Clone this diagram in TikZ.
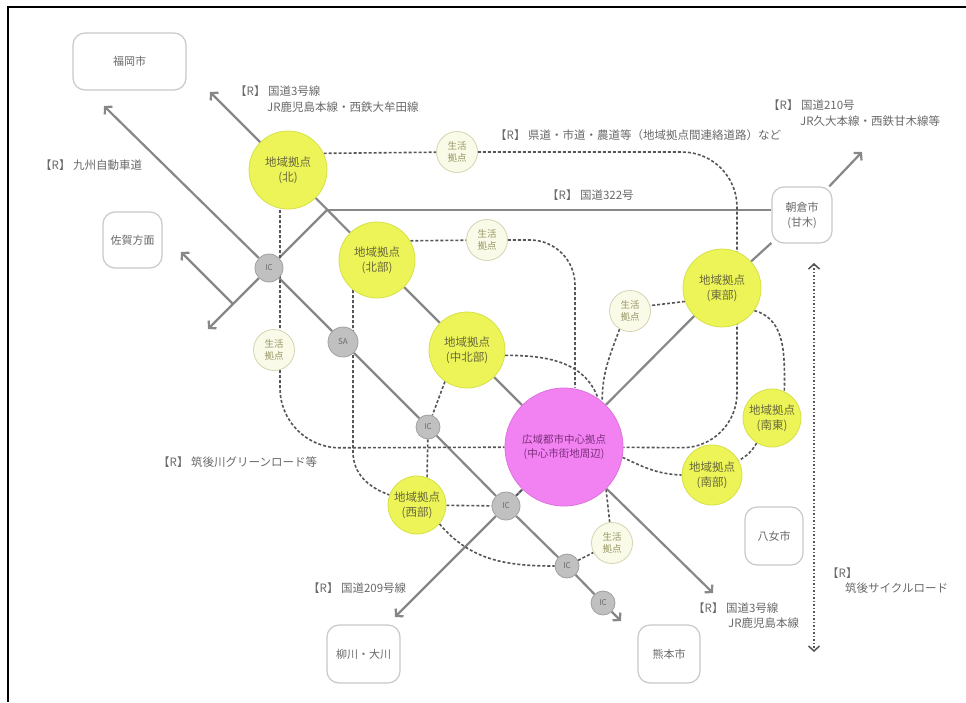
\documentclass[tikz,border=0pt]{standalone}
\usepackage{fontspec}
\setmainfont{Noto Sans CJK JP}
\usepackage{tikz}
\usetikzlibrary{arrows.meta,backgrounds}
\definecolor{hubfill}{RGB}{242,130,242}
\definecolor{hubline}{RGB}{222,112,222}
\definecolor{hubtext}{RGB}{125,45,125}
\definecolor{areafill}{RGB}{236,244,88}
\definecolor{arealine}{RGB}{214,224,72}
\definecolor{areatext}{RGB}{105,105,60}
\definecolor{lifefill}{RGB}{250,250,232}
\definecolor{lifeline}{RGB}{212,212,178}
\definecolor{lifetext}{RGB}{150,150,100}
\definecolor{icfill}{RGB}{192,192,192}
\definecolor{icline}{RGB}{160,160,160}
\definecolor{boxline}{RGB}{200,200,200}
\definecolor{roadgray}{RGB}{135,135,135}
\definecolor{routegray}{RGB}{85,85,85}
\definecolor{textgray}{RGB}{105,105,105}

\begin{document}
\begin{tikzpicture}[x=1pt,y=-1pt,>={Straight Barb[length=5pt,width=11pt]},font=\fontsize{11.5}{14}\selectfont]
 \tikzstyle{hub}=[circle,fill=hubfill,draw=hubline,line width=0.8pt,inner sep=0pt,minimum size=118pt,align=center,text=hubtext,font=\fontsize{10.5}{14}\selectfont]
 \tikzstyle{area}=[circle,fill=areafill,draw=arealine,line width=0.8pt,inner sep=0pt,minimum size=76pt,align=center,text=areatext,font=\fontsize{11.5}{15}\selectfont]
 \tikzstyle{life}=[circle,fill=lifefill,draw=lifeline,line width=0.8pt,inner sep=0pt,minimum size=41pt,align=center,text=lifetext,font=\fontsize{9.5}{11.5}\selectfont]
 \tikzstyle{ic}=[circle,fill=icfill,draw=icline,line width=0.8pt,inner sep=0pt,minimum size=26pt,text=textgray,font=\fontsize{8}{9}\selectfont]
 \tikzstyle{city}=[rectangle,rounded corners=12pt,fill=white,draw=boxline,line width=1.2pt,align=center,text=textgray,font=\fontsize{11}{15}\selectfont]
 \tikzstyle{lbl}=[anchor=west,inner sep=0pt,text=textgray]
 \tikzstyle{road}=[draw=roadgray,line width=2.2pt]
 \tikzstyle{route}=[draw=routegray,line width=1.6pt,dash pattern=on 3pt off 2pt]

 \useasboundingbox (0,0) rectangle (966,702);
 \draw[line width=2.5pt] (966,7) -- (8,7) -- (8,702);

 % neighbouring cities
 \node[city,minimum width=113pt,minimum height=57pt] (fukuoka) at (129.5,61.5) {福岡市};
 \node[city,minimum width=59pt,minimum height=56pt] (saga) at (132.5,240) {佐賀方面};
 \node[city,minimum width=60pt,minimum height=56pt] (asakura) at (802,215) {朝倉市\\(甘木)};
 \node[city,minimum width=58pt,minimum height=58pt] (yame) at (774,536) {八女市};
 \node[city,minimum width=73pt,minimum height=58pt] (yanagawa) at (363.5,654) {柳川・大川};
 \node[city,minimum width=62pt,minimum height=58pt] (kumamoto) at (669,654) {熊本市};

 % centres
 \node[hub] (M) at (564,447) {広域都市中心拠点\\(中心市街地周辺)};
 \node[area,minimum size=78pt] (Y1) at (288,170) {地域拠点\\(北)};
 \node[area] (Y2) at (377,260) {地域拠点\\(北部)};
 \node[area] (Y3) at (467,350) {地域拠点\\(中北部)};
 \node[area,minimum size=78pt] (Y4) at (722,288) {地域拠点\\(東部)};
 \node[area,minimum size=58pt] (Y5) at (772,418) {地域拠点\\(南東)};
 \node[area,minimum size=60pt] (Y6) at (712,475) {地域拠点\\(南部)};
 \node[area,minimum size=58pt] (Y7) at (417,505) {地域拠点\\(西部)};
 \node[life] (S1) at (457,152) {生活\\拠点};
 \node[life] (S2) at (487,240) {生活\\拠点};
 \node[life] (S3) at (274,350) {生活\\拠点};
 \node[life] (S4) at (630,311) {生活\\拠点};
 \node[life] (S5) at (612,543) {生活\\拠点};
 \node[ic,minimum size=28pt] (G1) at (269,268) {IC};
 \node[ic,minimum size=30pt] (G2) at (343,342) {SA};
 \node[ic,minimum size=24pt] (G3) at (428,427) {IC};
 \node[ic,minimum size=28pt] (G4) at (506,506) {IC};
 \node[ic,minimum size=24pt] (G5) at (567,566) {IC};
 \node[ic,minimum size=24pt] (G6) at (603,603) {IC};

 % road names
 \node[lbl] (t1a) at (235,91) {【R】 国道3号線};
 \node[lbl] (t1b) at (267,107) {JR鹿児島本線・西鉄大牟田線};
 \node[lbl] (t2) at (40,165) {【R】 九州自動車道};
 \node[lbl] (t3) at (495,135) {【R】 県道・市道・農道等（地域拠点間連絡道路）など};
 \node[lbl] (t4a) at (768,105) {【R】 国道210号};
 \node[lbl] (t4b) at (800,121) {JR久大本線・西鉄甘木線等};
 \node[lbl] (t5) at (547,195) {【R】 国道322号};
 \node[lbl] (t6) at (158,462) {【R】 筑後川グリーンロード等};
 \node[lbl] (t7) at (308,588) {【R】 国道209号線};
 \node[lbl] (t8a) at (693,608) {【R】 国道3号線};
 \node[lbl] (t8b) at (728,623) {JR鹿児島本線};
 \node[lbl] (t9a) at (827,573) {【R】};
 \node[lbl] (t9b) at (845,588) {筑後サイクルロード};

 \coordinate (nw1) at (104,106);
 \coordinate (se1) at (621,621);
 \coordinate (nw2) at (210,92);
 \coordinate (se2) at (713,593);
 \coordinate (ne3) at (862,152);
 \coordinate (sw3) at (395,617);
 \coordinate (J) at (327,210);
 \coordinate (sw4) at (208,329);
 \coordinate (K) at (233,304);
 \coordinate (nw4) at (181,252);
 \coordinate (c1) at (737,152);
 \coordinate (c2) at (737,448);
 \coordinate (c3) at (575,240);
 \coordinate (c4) at (280,448);
 \coordinate (c5) at (353,452);
 \coordinate (dv1) at (814,263);
 \coordinate (dv2) at (814,652);

 \begin{scope}[on background layer]
  % roads
  \draw[road] (G1) -- (G2) -- (G3) -- (G4) -- (G5) -- (G6);
  \draw[road,->] (G1) -- (nw1);
  \draw[road,->] (G6) -- (se1);
  \draw[road] (Y1) -- (Y2) -- (Y3) -- (M);
  \draw[road,->] (Y1) -- (nw2);
  \draw[road,->] (M) -- (se2);
  \draw[road] (asakura) -- (Y4) -- (M) -- (G4);
  \draw[road,->] (asakura) -- (ne3);
  \draw[road,->] (G4) -- (sw3);
  \draw[road] (J) -- (G1);
  \draw[road,->] (G1) -- (sw4);
  \draw[road,->] (K) -- (nw4);
  \draw[road] (J) -- (J -| asakura.west);
  \draw[routegray,line width=1.5pt,dotted,<->] (dv1) -- (dv2);

  % links between centres
  \path[route]
   (Y1.25) edge (S1)
   (Y2.30) edge (S2)
   (Y4.200) edge (S4.15)
   (Y3.235) edge (G3)
   (G3) edge (Y7.70)
   (Y7) edge (G4)
   (G4) edge (M)
   (G5) edge (S5)
   (S5) edge (M.-45)
   (Y5) edge [bend left=15] (Y6);
  \draw[route,rounded corners=55pt] (S1) -- (c1) -- (c2) -- (M);
  \draw[route,rounded corners=45pt] (S2) -- (c3) -- (M.north -| c3);
  \draw[route] (Y3.-8) to[out=0,in=110] (M.55);
  \draw[route] (S4.240) to[out=250,in=90] (M.50);
  \draw[route] (Y4.-35) to[out=-15,in=90] (Y5.65);
  \draw[route] (M.-10) to[out=-25,in=178] (Y6.180);
  \draw[route,rounded corners=60pt] (Y1.center -| c4) -- (c4) -- (M);
  \draw[route] (Y2.center -| c5) -- (c5) to[out=-90,in=160] (Y7.160);
  \draw[route] (Y7.-40) to[out=-50,in=180] (G5);
 \end{scope}
\end{tikzpicture}
\end{document}
